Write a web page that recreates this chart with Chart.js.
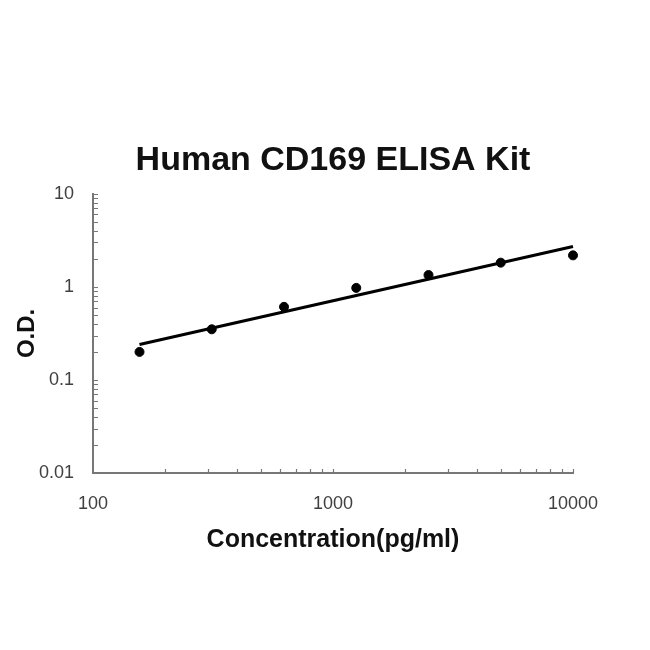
<!DOCTYPE html>
<html>
<head>
<meta charset="utf-8">
<script src="https://cdn.jsdelivr.net/npm/chart.js@4/dist/chart.umd.min.js"></script>
<style>
  html, body { margin: 0; padding: 0; background: #fff; }
  #wrap { width: 650px; height: 650px; }
</style>
</head>
<body>
<div id="wrap"><canvas id="elisa-chart" width="650" height="650"></canvas></div>
<script>
// standard curve data
const concentration = [156.25, 312.5, 625, 1250, 2500, 5000, 10000]
const odValues = [0.2, 0.35, 0.61, 0.975, 1.34, 1.82, 2.18]
// fitted trend line end points
const fitX = [156.25, 10000]
const fitY = [0.24, 2.72]

const xTickValues = [100, 1000, 10000]
const yTickValues = [0.01, 0.1, 1, 10]

const ctx = document.getElementById('elisa-chart')

const pointData = concentration.map((c, i) => ({ x: c, y: odValues[i] }))
const fitData = fitX.map((c, i) => ({ x: c, y: fitY[i] }))

// small inside tick marks like the original excel plot
const minorTicks = {
  id: 'minorTicks',
  afterDraw(chart) {
    const c = chart.ctx
    const xs = chart.scales.x
    const ys = chart.scales.y
    c.save()
    c.strokeStyle = '#777'
    c.lineWidth = 1.2
    c.beginPath()
    for (let d = 100; d < 10000; d *= 10) {
      for (let m = 2; m <= 10; m++) {
        const px = Math.round(xs.getPixelForValue(d * m)) + 0.5
        c.moveTo(px, xs.top)
        c.lineTo(px, xs.top - 4)
      }
    }
    for (let d = 0.01; d < 10; d *= 10) {
      for (let m = 1; m <= 10; m++) {
        const py = Math.round(ys.getPixelForValue(d * m)) + 0.5
        c.moveTo(ys.right, py)
        c.lineTo(ys.right + 5, py)
      }
    }
    c.stroke()
    c.restore()
  }
}

new Chart(ctx, {
  type: 'scatter',
  data: {
    datasets: [{
      label: 'O.D.',
      data: pointData,
      backgroundColor: '#000',
      borderColor: '#000',
      pointRadius: 4.5,
      pointHoverRadius: 4.5,
      clip: false
    }, {
      label: 'fit',
      data: fitData,
      showLine: true,
      borderColor: '#000',
      borderWidth: 3,
      pointRadius: 0,
      fill: false,
      clip: false
    }]
  },
  options: {
    responsive: false,
    animation: false,
    layout: { padding: { top: 140, left: 13, right: 77, bottom: 95 } },
    plugins: {
      legend: { display: false },
      tooltip: { enabled: false },
      title: {
        display: true,
        fullSize: false,
        text: 'Human CD169 ELISA Kit',
        color: '#111',
        font: { family: 'Liberation Sans', size: 34, weight: 'bold' },
        padding: { top: 0, bottom: 13 }
      }
    },
    scales: {
      x: {
        type: 'logarithmic',
        min: 100,
        max: 10000,
        afterBuildTicks: (scale) => { scale.ticks = xTickValues.map(v => ({ value: v })) },
        afterFit: (scale) => { scale.height = 82 },
        grid: { display: false, drawTicks: false },
        border: { display: true, color: '#777', width: 2 },
        ticks: {
          padding: 20,
          maxRotation: 0,
          color: '#404040',
          font: { family: 'Liberation Sans', size: 18 },
          callback: (v) => String(v)
        },
        title: {
          display: true,
          text: 'Concentration(pg/ml)',
          color: '#111',
          padding: 0,
          font: { family: 'Liberation Sans', size: 25, weight: 'bold' }
        }
      },
      y: {
        type: 'logarithmic',
        min: 0.01,
        max: 10,
        afterBuildTicks: (scale) => { scale.ticks = yTickValues.map(v => ({ value: v })) },
        afterFit: (scale) => { scale.width = 80 },
        grid: { display: false, drawTicks: false },
        border: { display: true, color: '#777', width: 2 },
        ticks: {
          padding: 19,
          color: '#404040',
          font: { family: 'Liberation Sans', size: 18 },
          callback: (v) => String(v)
        },
        title: {
          display: true,
          text: 'O.D.',
          color: '#111',
          padding: 0,
          font: { family: 'Liberation Sans', size: 24, weight: 'bold' }
        }
      }
    }
  },
  plugins: [minorTicks]
})
</script>
</body>
</html>
